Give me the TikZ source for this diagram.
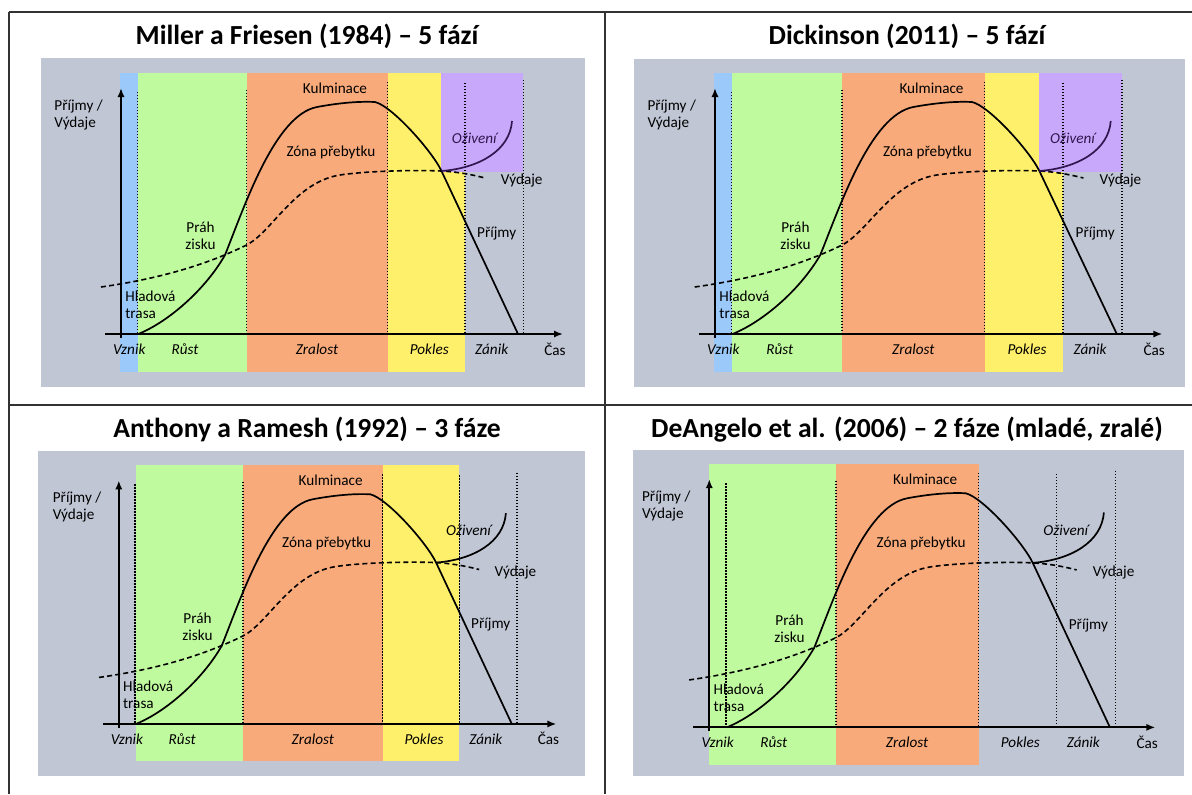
\documentclass[tikz,border=0pt]{standalone}
\usepackage{fontspec}
\setmainfont{Carlito}
\usetikzlibrary{arrows.meta}
\definecolor{bggray}{RGB}{192,198,212}
\definecolor{cblue}{RGB}{155,202,250}
\definecolor{cgreen}{RGB}{192,250,158}
\definecolor{corange}{RGB}{248,170,122}
\definecolor{cyellow}{RGB}{255,240,108}
\definecolor{cpurple}{RGB}{200,168,250}
\definecolor{revpurple}{RGB}{50,22,80}
\definecolor{framegray}{RGB}{50,50,50}
\tikzset{
  lbl/.style={inner sep=0pt, font=\fontsize{7.6}{8.4}\selectfont},
  phase/.style={inner sep=0pt, font=\fontsize{7.6}{8.4}\selectfont\itshape},
  ttl/.style={inner sep=0pt, anchor=base, font=\fontsize{13.8}{16}\selectfont\bfseries},
  dotline/.style={line width=0.7pt, dash pattern=on 0.7pt off 0.8pt},
  axisline/.style={line width=1pt, -{Latex[length=4.5pt,width=3.6pt]}},
  revline/.style={line width=0.85pt},
  expline/.style={line width=0.8pt, dash pattern=on 2.5pt off 1.6pt},
  framel/.style={line width=0.7pt, draw=framegray},
}
\newcommand\bandblue{\fill[cblue] (120,72.7) rectangle (138.3,371.7);}
\newcommand\bandgreen[1]{\fill[cgreen] (#1,72.7) rectangle (246.6,371.7);}
\newcommand\bandorange{\fill[corange] (246.6,72.7) rectangle (388,371.7);}
\newcommand\bandyellow{\fill[cyellow] (388,72.7) rectangle (464.5,371.7);}
\newcommand\bandpurple{\fill[cpurple] (441,72.7) rectangle (523.3,171.7);}
\newcommand\chartbody[1]{%
  % dotted phase borders
  \draw[dotline] (137.5,92) -- (137.5,334);
  \draw[dotline] (246.6,89.5) -- (246.6,334);
  \draw[dotline] (387.5,82) -- (387.5,334);
  \draw[dotline] (465,83) -- (465,334);
  \draw[dotline] (523.3,80) -- (523.3,334);
  % axes
  \coordinate (yb) at (121,338);
  \coordinate (yt) at (121,88);
  \coordinate (xl) at (105,334);
  \coordinate (xr) at (563,334);
  \draw[axisline] (yb) -- (yt);
  \draw[axisline] (xl) -- (xr);
  % expenses (dashed)
  \coordinate (e0) at (101,287);
  \coordinate (e1) at (246.6,245);
  \coordinate (e2) at (340,175);
  \coordinate (e3) at (441.5,171);
  \coordinate (e4) at (485,178);
  \draw[expline] (e0) .. controls (150,280) and (200,268) .. (e1)
    .. controls (272,232) and (295,182) .. (e2)
    .. controls (370,170.5) and (420,170) .. (e3)
    .. controls (455,171.7) and (470,174) .. (e4);
  % revenues (solid)
  \coordinate (r0) at (138.3,334);
  \coordinate (r1) at (225,255);
  \coordinate (r2) at (317,107);
  \coordinate (r3) at (375,102);
  \coordinate (r4) at (441.5,171);
  \coordinate (r5) at (518,334);
  \draw[revline] (r0) .. controls (168,322) and (205,290) .. (r1)
    .. controls (245,205) and (275,115) .. (r2)
    .. controls (333,104) and (355,101) .. (r3)
    .. controls (392,106) and (432,151) .. (r4) -- (r5);
  % revival
  \coordinate (v1) at (512,121);
  \draw[revline,draw=#1] (r4) .. controls (480,168) and (510,150) .. (v1);
  % labels
  \node[lbl,anchor=west,align=left] (ylab) at (54,115) {Příjmy /\\Výdaje};
  \node[lbl] (kulm) at (335,88) {Kulminace};
  \node[lbl] (zona) at (331,152) {Zóna přebytku};
  \node[phase,text=#1] (oziv) at (474.3,138.7) {Oživení};
  \node[lbl] (vyd) at (521.7,181) {Výdaje};
  \node[lbl] (prij) at (496.7,233.3) {Příjmy};
  \node[lbl,align=center] (prah) at (200.5,236) {Práh\\zisku};
  \node[lbl,anchor=west,align=left] (hlad) at (125,304.5) {Hladová\\trasa};
  \node[phase] (vznik) at (129.3,349) {Vznik};
  \node[phase] (rust) at (185,349) {Růst};
  \node[phase] (zral) at (317,349) {Zralost};
  \node[phase] (pokl) at (429.3,349) {Pokles};
  \node[phase] (zanik) at (491.7,349) {Zánik};
  \node[lbl] (cas) at (555,349) {Čas};
}
\begin{document}
\begin{tikzpicture}[x=0.5pt,y=-0.5pt]
\useasboundingbox (0,0) rectangle (1192,794);
\fill[white] (0,0) rectangle (1192,794);
% frame
\draw[framel] (9,12) -- (1192,12);
\draw[framel] (9,12) -- (9,794);
\draw[framel] (605,12) -- (605,794);
\draw[framel] (9,405) -- (1192,405);
% titles
\node[ttl] (t1) at (307,44) {Miller a Friesen (1984) – 5 fází};
\node[ttl] (t2) at (907,44) {Dickinson (2011) – 5 fází};
\node[ttl] (t3) at (307,437) {Anthony a Ramesh (1992) – 3 fáze};
\node[ttl] (t4) at (907,437) {DeAngelo et al. (2006) – 2 fáze (mladé, zralé)};
% gray panels
\fill[bggray] (41,58) rectangle (585,387);
\fill[bggray] (634,58.7) rectangle (1185,386.7);
\fill[bggray] (38,450.7) rectangle (585,776);
\fill[bggray] (632.5,450) rectangle (1184,776);
% panel 1
\begin{scope}[name prefix=p1-]
  \bandblue \bandgreen{138.3} \bandorange \bandyellow \bandpurple
  \chartbody{revpurple}
\end{scope}
% panel 2
\begin{scope}[name prefix=p2-, shift={(592.5,0)}, xscale=1.012]
  \bandblue \bandgreen{138.3} \bandorange \bandyellow \bandpurple
  \chartbody{revpurple}
\end{scope}
% panel 3
\begin{scope}[name prefix=p3-, shift={(-1,393.3)}, xscale=0.99, yscale=0.99]
  \bandgreen{138.3} \bandorange \bandyellow
  \chartbody{black}
\end{scope}
% panel 4
\begin{scope}[name prefix=p4-, shift={(587.2,390.3)}, xscale=1.009, yscale=1.009]
  \bandgreen{121} \bandorange
  \chartbody{black}
\end{scope}
\end{tikzpicture}
\end{document}
